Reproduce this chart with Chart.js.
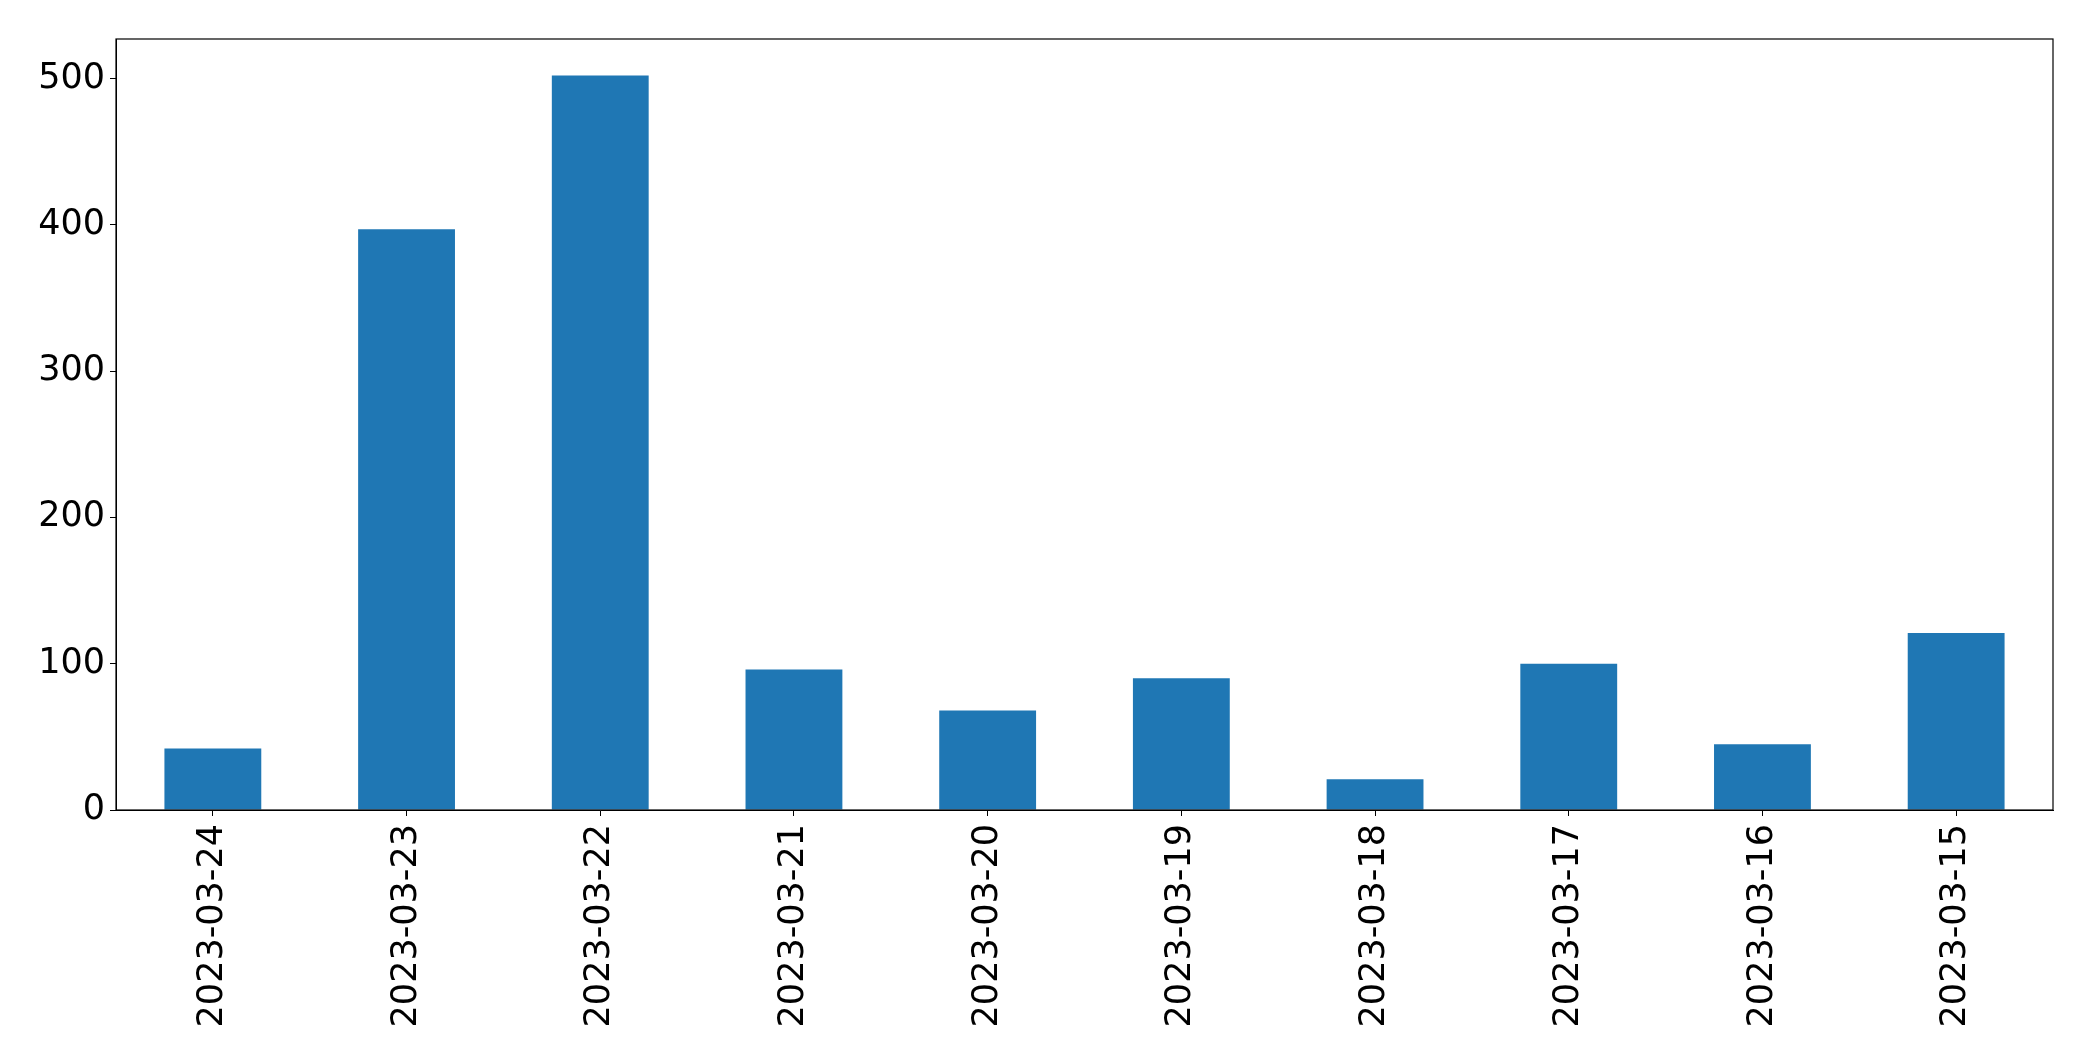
<!DOCTYPE html>
<html>
<head>
<meta charset="utf-8">
<script src="https://cdn.jsdelivr.net/npm/chart.js@4/dist/chart.umd.min.js"></script>
<style>
  html, body { margin: 0; padding: 0; background: #fff; }
  canvas { display: block; }
</style>
</head>
<body>
<canvas id="chart" width="2093" height="1061"></canvas>
<script>
// dates (as in the source, newest first)
const DAYS = ['2023-03-24', '2023-03-23', '2023-03-22', '2023-03-21', '2023-03-20',
              '2023-03-19', '2023-03-18', '2023-03-17', '2023-03-16', '2023-03-15'];
const COUNTS = [42, 397, 502, 96, 68, 90, 21, 100, 45, 121];
const Y_TICKS = [0, 100, 200, 300, 400, 500];
const Y_MAX = 527;

const BAR_BLUE = '#1f77b4';
const FONT = { family: "'DejaVu Sans', sans-serif", size: 35 };

// box around the plot area, like a matplotlib axes frame
const framePlugin = {
  id: 'frame',
  afterDraw(chart) {
    const { ctx, chartArea: a } = chart;
    ctx.save();
    ctx.strokeStyle = '#000';
    ctx.lineWidth = 1.2;
    ctx.strokeRect(a.left, a.top, a.right - a.left, a.bottom - a.top);
    ctx.restore();
  }
};

Chart.defaults.font = FONT;
Chart.defaults.color = '#000';

new Chart(document.getElementById('chart'), {
  type: 'bar',
  data: {
    labels: DAYS,
    datasets: [{
      data: COUNTS,
      backgroundColor: BAR_BLUE,
      borderWidth: 0,
      categoryPercentage: 1,
      barPercentage: 0.5,
    }],
  },
  options: {
    responsive: false,
    animation: false,
    layout: { padding: { top: 39, right: 40, left: 0, bottom: 0 } },
    plugins: { legend: { display: false }, tooltip: { enabled: false } },
    scales: {
      x: {
        offset: true,
        grid: { offset: false, drawOnChartArea: false, drawTicks: true, tickLength: 6, color: '#000', lineWidth: 1 },
        border: { display: true, color: '#000', width: 1 },
        ticks: { minRotation: 90, maxRotation: 90, padding: 8, autoSkip: false, font: FONT },
        afterFit: s => { s.height = 251; },
      },
      y: {
        min: 0,
        max: Y_MAX,
        grid: { drawOnChartArea: false, drawTicks: true, tickLength: 6, color: '#000', lineWidth: 1 },
        border: { display: true, color: '#000', width: 1 },
        ticks: { stepSize: 100, padding: 5, font: FONT },
        afterBuildTicks: s => { s.ticks = Y_TICKS.map(v => ({ value: v })); },
        afterFit: s => { s.width = 116; },
      },
    },
  },
  plugins: [framePlugin],
});
</script>
</body>
</html>
